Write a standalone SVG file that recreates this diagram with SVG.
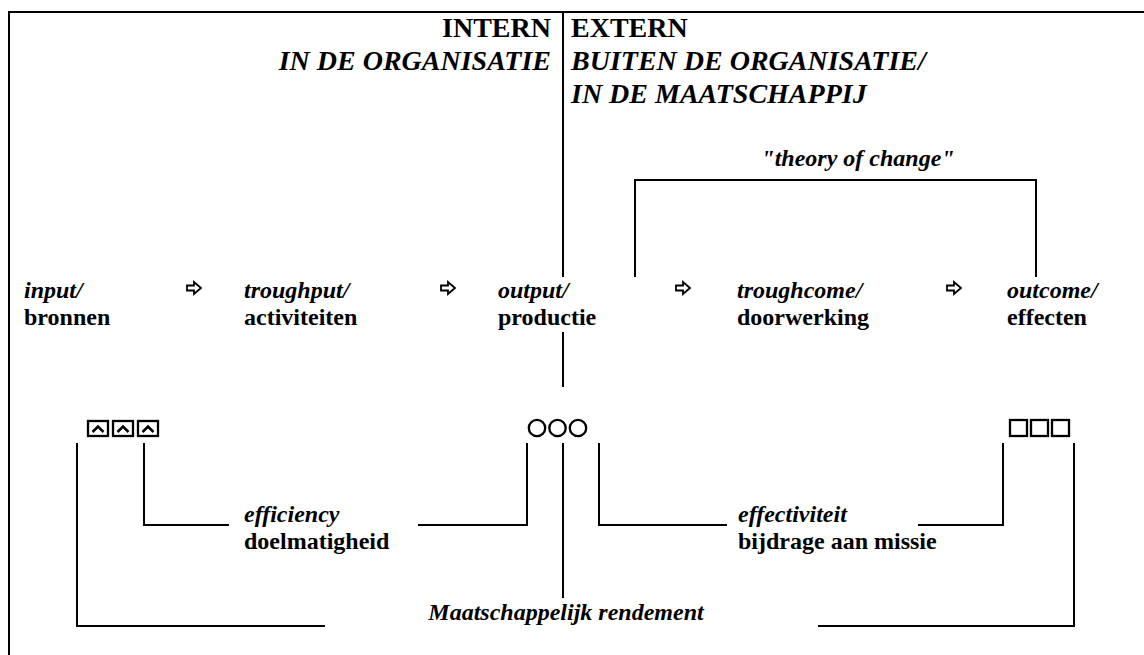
<svg xmlns="http://www.w3.org/2000/svg" width="1144" height="655" viewBox="0 0 1144 655">
<style>
.t{font-family:"Liberation Serif","Times New Roman",serif;font-weight:bold;fill:#000}
.h{font-size:28px}
.b{font-size:24px}
.i{font-style:italic}
.ln{stroke:#000;stroke-width:2;fill:none}
.sym{stroke:#000;stroke-width:2.3;fill:none}
.chev{stroke:#000;stroke-width:2.5;fill:none;stroke-linejoin:miter}
.arr{stroke:#000;stroke-width:1.8;fill:#fff;stroke-linejoin:miter}
</style>
<defs>
<path id="arrow" d="M0 -2.5 H7 V-6 L14 0 L7 6 V2.5 H0 Z"/>
</defs>
<rect width="1144" height="655" fill="#fff"/>
<g id="frame">
<path class="ln" d="M9 655 V12 H1144"/>
</g>
<g id="header-intern">
<text class="t h" x="551" y="37" text-anchor="end">INTERN</text>
<text class="t h i" x="551" y="70" text-anchor="end">IN DE ORGANISATIE</text>
</g>
<g id="header-extern">
<text class="t h" x="571" y="37">EXTERN</text>
<text class="t h i" x="571" y="70">BUITEN DE ORGANISATIE/</text>
<text class="t h i" x="571" y="103">IN DE MAATSCHAPPIJ</text>
</g>
<g id="toc">
<text class="t b i" x="858" y="166" text-anchor="middle">"theory of change"</text>
</g>
<g id="n-input"><text class="t b i" x="24" y="298">input/</text><text class="t b" x="24" y="325">bronnen</text></g>
<g id="n-throughput"><text class="t b i" x="244" y="298">troughput/</text><text class="t b" x="244" y="325">activiteiten</text></g>
<g id="n-output"><text class="t b i" x="498" y="298">output/</text><text class="t b" x="498" y="325">productie</text></g>
<g id="n-throughcome"><text class="t b i" x="737" y="298">troughcome/</text><text class="t b" x="737" y="325">doorwerking</text></g>
<g id="n-outcome"><text class="t b i" x="1007" y="298">outcome/</text><text class="t b" x="1007" y="325">effecten</text></g>
<g id="arrows">
<use href="#arrow" class="arr" x="187" y="288"/>
<use href="#arrow" class="arr" x="441" y="288"/>
<use href="#arrow" class="arr" x="676" y="288"/>
<use href="#arrow" class="arr" x="947" y="288"/>
</g>
<g id="sym-input">
<rect class="sym" x="88" y="421" width="20" height="15"/><path class="chev" d="M92.5 432 L98 426.5 L103.5 432"/>
<rect class="sym" x="113" y="421" width="20" height="15"/><path class="chev" d="M117.5 432 L123 426.5 L128.5 432"/>
<rect class="sym" x="138" y="421" width="20" height="15"/><path class="chev" d="M142.5 432 L148 426.5 L153.5 432"/>
</g>
<g id="sym-output">
<circle class="sym" cx="537" cy="428" r="8.2"/><circle class="sym" cx="557.5" cy="428" r="8.2"/><circle class="sym" cx="578" cy="428" r="8.2"/>
</g>
<g id="sym-outcome">
<rect class="sym" x="1010" y="420" width="17" height="16"/><rect class="sym" x="1031" y="420" width="17" height="16"/><rect class="sym" x="1052" y="420" width="17" height="16"/>
</g>
<g id="n-efficiency"><text class="t b i" x="244" y="522">efficiency</text><text class="t b" x="244" y="549">doelmatigheid</text></g>
<g id="n-effectiviteit"><text class="t b i" x="738" y="522">effectiviteit</text><text class="t b" x="738" y="549">bijdrage aan missie</text></g>
<g id="n-rendement"><text class="t b i" x="566" y="620" text-anchor="middle">Maatschappelijk rendement</text></g>
<g id="connectors">
<path class="ln" d="M563 12 V277"/>
<path class="ln" d="M563 332 V387"/>
<path class="ln" d="M635 277 V180 H1036 V277"/>
<path class="ln" d="M77 443 V626 H325"/>
<path class="ln" d="M144 443 V525 H229"/>
<path class="ln" d="M418 525 H527 V443"/>
<path class="ln" d="M563 443 V598"/>
<path class="ln" d="M599 443 V525 H727"/>
<path class="ln" d="M918 525 H1003 V443"/>
<path class="ln" d="M818 626 H1074 V443"/>
</g>
</svg>
